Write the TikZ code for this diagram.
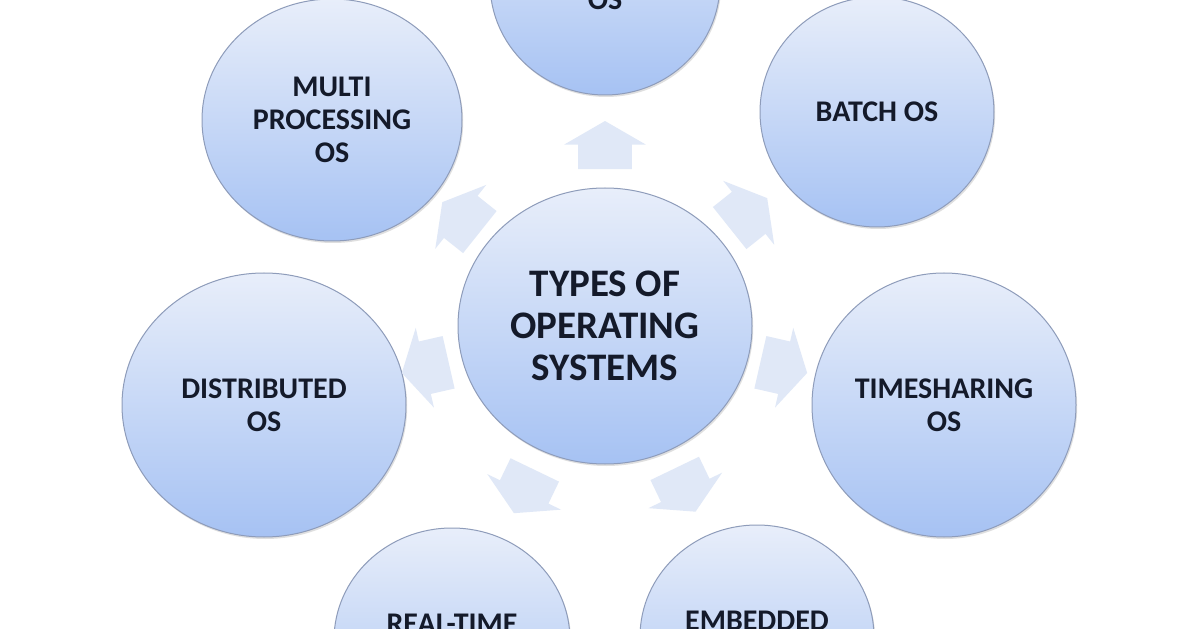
\documentclass[tikz,border=0pt]{standalone}
\usepackage{fontspec}
\setmainfont{Carlito}
\usetikzlibrary{shapes.geometric,shapes.arrows,shadows,calc}
\definecolor{circtop}{HTML}{E8EEFA}
\definecolor{circbot}{HTML}{A6C2F3}
\definecolor{circline}{HTML}{8E9CBA}
\definecolor{arrowfill}{HTML}{E0E8F7}
\definecolor{textcol}{HTML}{141A2A}
\begin{document}
\begin{tikzpicture}[x=0.5pt,y=0.5pt,
  osnode/.style={ellipse,inner sep=0pt,draw=circline,line width=0.5pt,
    top color=circtop,bottom color=circbot,align=center,text=textcol,
    font=\fontsize{15}{16.5}\selectfont\bfseries,
    drop shadow={opacity=0.25,shadow xshift=0.6pt,shadow yshift=-1pt}},
  radarrow/.style={single arrow,draw=none,fill=arrowfill,inner xsep=0pt,inner ysep=13.25pt,
    minimum height=24pt,minimum width=40.5pt,
    single arrow head extend=7pt,single arrow tip angle=120}]
\useasboundingbox (0,0) rectangle (1196,628);
\fill [white] (0,0) rectangle (1196,628);
% the seven kinds round the hub
\node (top)   at (605,645) [osnode,minimum width=115pt,minimum height=112pt] {\phantom{OS}\\OS};
\node (batch) at (877,516) [osnode,minimum width=117pt,minimum height=115pt] {BATCH OS};
\node (time)  at (944,223) [osnode,minimum width=132pt,minimum height=132pt] {TIMESHARING\\OS};
\node (embed) at (757,-9)  [osnode,minimum width=117pt,minimum height=112pt] {EMBEDDED\\\phantom{OS}};
\node (real)  at (452,-12) [osnode,minimum width=118pt,minimum height=112pt] {REAL-TIME\\\phantom{OS}};
\node (dist)  at (264,223) [osnode,minimum width=142pt,minimum height=132pt] {DISTRIBUTED\\OS};
\node (multi) at (332,508) [osnode,minimum width=130pt,minimum height=121pt] {MULTI\\PROCESSING\\OS};
% block arrows pointing out of the hub
\node (atop)   at ($(605,302)!0.505!(top)$)   [radarrow,rotate=90]     {};
\node (abatch) at ($(605,302)!0.505!(batch)$) [radarrow,rotate=38.57]  {};
\node (atime)  at ($(605,302)!0.505!(time)$)  [radarrow,rotate=-12.86] {};
\node (aembed) at ($(605,302)!0.505!(embed)$) [radarrow,rotate=-64.29] {};
\node (areal)  at ($(605,302)!0.505!(real)$)  [radarrow,rotate=-115.71]{};
\node (adist)  at ($(605,302)!0.505!(dist)$)  [radarrow,rotate=-167.14]{};
\node (amulti) at ($(605,302)!0.505!(multi)$) [radarrow,rotate=141.43] {};
\node (hub) at (605,302) [osnode,minimum width=147pt,minimum height=138pt,
  font=\fontsize{19.5}{21}\selectfont\bfseries] {TYPES OF\\OPERATING\\SYSTEMS};
\end{tikzpicture}
\end{document}
